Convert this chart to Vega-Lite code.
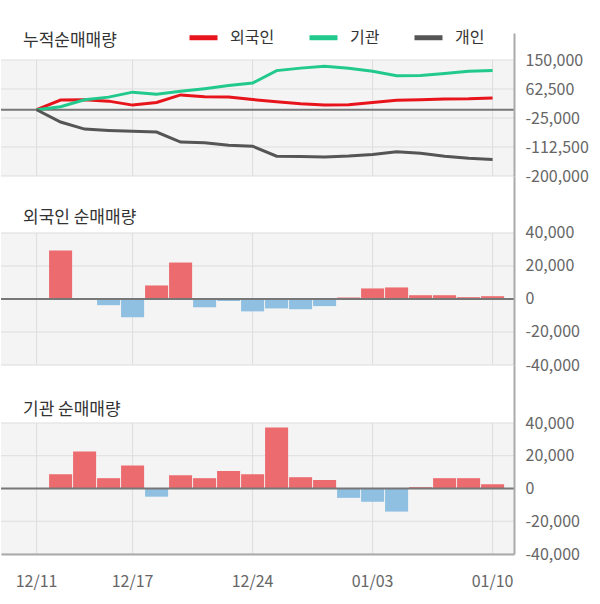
{
  "$schema": "https://vega.github.io/schema/vega-lite/v6.json",
  "padding": {"left": 0, "top": 21, "right": 0, "bottom": 6},
  "background": "white",
  "config": {
    "font": "Noto Sans CJK KR",
    "view": {"stroke": null},
    "title": {"font": "Noto Sans CJK KR"},
    "axis": {"labelFont": "Noto Sans CJK KR", "labelOverlap": false},
    "legend": {"labelFont": "Noto Sans CJK KR"}
  },
  "datasets": {
    "cum": [
      {"date": "12/11", "investor": "외국인", "value": 0},
      {"date": "12/12", "investor": "외국인", "value": 29000},
      {"date": "12/13", "investor": "외국인", "value": 29800},
      {"date": "12/16", "investor": "외국인", "value": 25900},
      {"date": "12/17", "investor": "외국인", "value": 13900},
      {"date": "12/18", "investor": "외국인", "value": 22000},
      {"date": "12/19", "investor": "외국인", "value": 44600},
      {"date": "12/20", "investor": "외국인", "value": 39000},
      {"date": "12/23", "investor": "외국인", "value": 38500},
      {"date": "12/24", "investor": "외국인", "value": 30700},
      {"date": "12/26", "investor": "외국인", "value": 24300},
      {"date": "12/27", "investor": "외국인", "value": 18200},
      {"date": "12/30", "investor": "외국인", "value": 14600},
      {"date": "01/02", "investor": "외국인", "value": 15000},
      {"date": "01/03", "investor": "외국인", "value": 21700},
      {"date": "01/06", "investor": "외국인", "value": 28800},
      {"date": "01/07", "investor": "외국인", "value": 30000},
      {"date": "01/08", "investor": "외국인", "value": 32500},
      {"date": "01/09", "investor": "외국인", "value": 33100},
      {"date": "01/10", "investor": "외국인", "value": 35500},
      {"date": "12/11", "investor": "기관", "value": 0},
      {"date": "12/12", "investor": "기관", "value": 8800},
      {"date": "12/13", "investor": "기관", "value": 30000},
      {"date": "12/16", "investor": "기관", "value": 38000},
      {"date": "12/17", "investor": "기관", "value": 53000},
      {"date": "12/18", "investor": "기관", "value": 46500},
      {"date": "12/19", "investor": "기관", "value": 55500},
      {"date": "12/20", "investor": "기관", "value": 63500},
      {"date": "12/23", "investor": "기관", "value": 73000},
      {"date": "12/24", "investor": "기관", "value": 80400},
      {"date": "12/26", "investor": "기관", "value": 118000},
      {"date": "12/27", "investor": "기관", "value": 125500},
      {"date": "12/30", "investor": "기관", "value": 131500},
      {"date": "01/02", "investor": "기관", "value": 125300},
      {"date": "01/03", "investor": "기관", "value": 116300},
      {"date": "01/06", "investor": "기관", "value": 102700},
      {"date": "01/07", "investor": "기관", "value": 103000},
      {"date": "01/08", "investor": "기관", "value": 109200},
      {"date": "01/09", "investor": "기관", "value": 115800},
      {"date": "01/10", "investor": "기관", "value": 118200},
      {"date": "12/11", "investor": "개인", "value": 0},
      {"date": "12/12", "investor": "개인", "value": -37000},
      {"date": "12/13", "investor": "개인", "value": -58500},
      {"date": "12/16", "investor": "개인", "value": -62400},
      {"date": "12/17", "investor": "개인", "value": -65000},
      {"date": "12/18", "investor": "개인", "value": -67400},
      {"date": "12/19", "investor": "개인", "value": -97500},
      {"date": "12/20", "investor": "개인", "value": -99600},
      {"date": "12/23", "investor": "개인", "value": -107000},
      {"date": "12/24", "investor": "개인", "value": -110000},
      {"date": "12/26", "investor": "개인", "value": -140300},
      {"date": "12/27", "investor": "개인", "value": -141300},
      {"date": "12/30", "investor": "개인", "value": -143000},
      {"date": "01/02", "investor": "개인", "value": -140000},
      {"date": "01/03", "investor": "개인", "value": -134800},
      {"date": "01/06", "investor": "개인", "value": -127000},
      {"date": "01/07", "investor": "개인", "value": -131700},
      {"date": "01/08", "investor": "개인", "value": -140300},
      {"date": "01/09", "investor": "개인", "value": -146800},
      {"date": "01/10", "investor": "개인", "value": -149900}
    ],
    "net": [
      {"date": "12/12", "foreign": 29400, "inst": 8700},
      {"date": "12/13", "foreign": 0, "inst": 22600},
      {"date": "12/16", "foreign": -3750, "inst": 6300},
      {"date": "12/17", "foreign": -11000, "inst": 14100},
      {"date": "12/18", "foreign": 8200, "inst": -5000},
      {"date": "12/19", "foreign": 22100, "inst": 8100},
      {"date": "12/20", "foreign": -5000, "inst": 6300},
      {"date": "12/23", "foreign": -1200, "inst": 10700},
      {"date": "12/24", "foreign": -7500, "inst": 8700},
      {"date": "12/26", "foreign": -5700, "inst": 37200},
      {"date": "12/27", "foreign": -6200, "inst": 6900},
      {"date": "12/30", "foreign": -4300, "inst": 5200},
      {"date": "01/02", "foreign": 900, "inst": -5700},
      {"date": "01/03", "foreign": 6400, "inst": -8100},
      {"date": "01/06", "foreign": 7000, "inst": -14100},
      {"date": "01/07", "foreign": 2300, "inst": 800},
      {"date": "01/08", "foreign": 2300, "inst": 6300},
      {"date": "01/09", "foreign": 1100, "inst": 6300},
      {"date": "01/10", "foreign": 1700, "inst": 2600}
    ],
    "gridDates": [
      {"date": "12/11"}, {"date": "12/17"}, {"date": "12/24"}, {"date": "01/03"}, {"date": "01/10"}
    ],
    "ticksTop": [
      {"v": 150000}, {"v": 62500}, {"v": -25000}, {"v": -112500}, {"v": -200000}
    ],
    "ticksBar": [
      {"v": 40000}, {"v": 20000}, {"v": -20000}, {"v": -40000}
    ],
    "one": [{}]
  },
  "vconcat": [
    {
      "width": 513,
      "height": 143,
      "title": {"text": "누적순매매량", "anchor": "start", "dx": 23, "offset": -25, "baseline": "middle", "fontSize": 17, "fontWeight": "normal", "color": "#333333"},
      "layer": [
        {
          "data": {"name": "one"},
          "mark": {"type": "rect", "color": "#f4f4f4"},
          "encoding": {
            "y": {"datum": -200000, "type": "quantitative",
              "scale": {"domain": [-200000, 231466], "nice": false, "zero": false},
              "axis": {"orient": "right", "values": [150000, 62500, -25000, -112500, -200000], "tickCount": 10, "grid": false, "ticks": false, "domainColor": "#aaaaaa", "domainWidth": 2, "labelPadding": 11, "labelFontSize": 16, "labelColor": "#666666", "labelFlush": false, "labelOverlap": false, "labelExpr": "replace(format(datum.value, ','), '\u2212', '-')", "title": null, "zindex": 1}},
            "y2": {"datum": 150000}
          }
        },
        {
          "data": {"name": "ticksTop"},
          "mark": {"type": "rule", "color": "#dddddd", "strokeWidth": 1},
          "encoding": {"y": {"field": "v", "type": "quantitative"}}
        },
        {
          "data": {"name": "gridDates"},
          "mark": {"type": "rule", "color": "#dddddd", "strokeWidth": 1},
          "encoding": {
            "x": {"field": "date", "type": "ordinal", "bandPosition": 0.5, "sort": null,
              "scale": {"type": "band", "domain": ["12/11","12/12","12/13","12/16","12/17","12/18","12/19","12/20","12/23","12/24","12/26","12/27","12/30","01/02","01/03","01/06","01/07","01/08","01/09","01/10"], "paddingInner": 0.04, "paddingOuter": 0.7075, "align": 0.709},
              "axis": null},
            "y": {"datum": -200000, "type": "quantitative"},
            "y2": {"datum": 150000}
          }
        },
        {
          "data": {"name": "one"},
          "mark": {"type": "rule", "color": "#777777", "strokeWidth": 2},
          "encoding": {"y": {"datum": 0, "type": "quantitative"}}
        },
        {
          "data": {"name": "cum"},
          "mark": {"type": "line", "strokeWidth": 3},
          "encoding": {
            "x": {"field": "date", "type": "ordinal", "bandPosition": 0.5, "sort": null},
            "y": {"field": "value", "type": "quantitative"},
            "color": {"field": "investor", "type": "nominal",
              "scale": {"domain": ["외국인", "기관", "개인"], "range": ["#e8141b", "#22c98c", "#555555"]},
              "legend": {"orient": "none", "legendX": 186, "legendY": -12, "direction": "horizontal", "title": null, "symbolType": "stroke", "symbolSize": 784, "symbolStrokeWidth": 5, "labelFontSize": 16, "labelColor": "#333333", "labelOffset": 10, "columnPadding": 24, "padding": 0}}
          }
        }
      ]
    },
    {
      "width": 513,
      "height": 189,
      "title": {"text": "외국인 순매매량", "anchor": "start", "dx": 23, "offset": -59, "baseline": "middle", "fontSize": 17, "fontWeight": "normal", "color": "#333333"},
      "layer": [
        {
          "data": {"name": "one"},
          "mark": {"type": "rect", "color": "#f4f4f4"},
          "encoding": {
            "y": {"datum": -40000, "type": "quantitative",
              "scale": {"domain": [-40000, 74545], "nice": false, "zero": false},
              "axis": {"orient": "right", "values": [40000, 20000, 0, -20000, -40000], "tickCount": 10, "grid": false, "ticks": false, "domainColor": "#aaaaaa", "domainWidth": 2, "labelPadding": 11, "labelFontSize": 16, "labelColor": "#666666", "labelFlush": false, "labelOverlap": false, "labelExpr": "replace(format(datum.value, ','), '\u2212', '-')", "title": null, "zindex": 1}},
            "y2": {"datum": 40000}
          }
        },
        {
          "data": {"name": "ticksBar"},
          "mark": {"type": "rule", "color": "#dddddd", "strokeWidth": 1},
          "encoding": {"y": {"field": "v", "type": "quantitative"}}
        },
        {
          "data": {"name": "gridDates"},
          "mark": {"type": "rule", "color": "#dddddd", "strokeWidth": 1},
          "encoding": {
            "x": {"field": "date", "type": "ordinal", "bandPosition": 0.5, "sort": null,
              "scale": {"type": "band", "domain": ["12/11","12/12","12/13","12/16","12/17","12/18","12/19","12/20","12/23","12/24","12/26","12/27","12/30","01/02","01/03","01/06","01/07","01/08","01/09","01/10"], "paddingInner": 0.04, "paddingOuter": 0.7075, "align": 0.709},
              "axis": null},
            "y": {"datum": -40000, "type": "quantitative"},
            "y2": {"datum": 40000}
          }
        },
        {
          "data": {"name": "net"},
          "mark": {"type": "bar"},
          "encoding": {
            "x": {"field": "date", "type": "ordinal", "sort": null},
            "y": {"field": "foreign", "type": "quantitative"},
            "color": {"condition": {"test": "datum.foreign > 0", "value": "#ec6b6e"}, "value": "#8fbfe1"}
          }
        },
        {
          "data": {"name": "one"},
          "mark": {"type": "rule", "color": "#777777", "strokeWidth": 2},
          "encoding": {"y": {"datum": 0, "type": "quantitative"}}
        }
      ]
    },
    {
      "width": 513,
      "height": 189,
      "title": {"text": "기관 순매매량", "anchor": "start", "dx": 23, "offset": -62, "baseline": "middle", "fontSize": 17, "fontWeight": "normal", "color": "#333333"},
      "layer": [
        {
          "data": {"name": "one"},
          "mark": {"type": "rect", "color": "#f4f4f4"},
          "encoding": {
            "y": {"datum": -40000, "type": "quantitative",
              "scale": {"domain": [-40000, 75420], "nice": false, "zero": false},
              "axis": {"orient": "right", "values": [40000, 20000, 0, -20000, -40000], "tickCount": 10, "grid": false, "ticks": false, "domainColor": "#aaaaaa", "domainWidth": 2, "labelPadding": 11, "labelFontSize": 16, "labelColor": "#666666", "labelFlush": false, "labelOverlap": false, "labelExpr": "replace(format(datum.value, ','), '\u2212', '-')", "title": null, "zindex": 1}},
            "y2": {"datum": 40000}
          }
        },
        {
          "data": {"name": "ticksBar"},
          "mark": {"type": "rule", "color": "#dddddd", "strokeWidth": 1},
          "encoding": {"y": {"field": "v", "type": "quantitative"}}
        },
        {
          "data": {"name": "gridDates"},
          "mark": {"type": "rule", "color": "#dddddd", "strokeWidth": 1},
          "encoding": {
            "x": {"field": "date", "type": "ordinal", "bandPosition": 0.5, "sort": null,
              "scale": {"type": "band", "domain": ["12/11","12/12","12/13","12/16","12/17","12/18","12/19","12/20","12/23","12/24","12/26","12/27","12/30","01/02","01/03","01/06","01/07","01/08","01/09","01/10"], "paddingInner": 0.04, "paddingOuter": 0.7075, "align": 0.709},
              "axis": {"orient": "bottom", "values": ["12/11", "12/17", "12/24", "01/03", "01/10"], "ticks": false, "grid": false, "domainColor": "#aaaaaa", "domainWidth": 2, "labelPadding": 19, "labelFontSize": 16, "labelColor": "#666666", "labelAngle": 0, "title": null, "zindex": 1}},
            "y": {"datum": -40000, "type": "quantitative"},
            "y2": {"datum": 40000}
          }
        },
        {
          "data": {"name": "net"},
          "mark": {"type": "bar"},
          "encoding": {
            "x": {"field": "date", "type": "ordinal", "sort": null},
            "y": {"field": "inst", "type": "quantitative"},
            "color": {"condition": {"test": "datum.inst > 0", "value": "#ec6b6e"}, "value": "#8fbfe1"}
          }
        },
        {
          "data": {"name": "one"},
          "mark": {"type": "rule", "color": "#777777", "strokeWidth": 2},
          "encoding": {"y": {"datum": 0, "type": "quantitative"}}
        }
      ]
    }
  ],
  "spacing": 0,
  "bounds": "flush",
  "resolve": {"scale": {"x": "independent", "y": "independent"}}
}
